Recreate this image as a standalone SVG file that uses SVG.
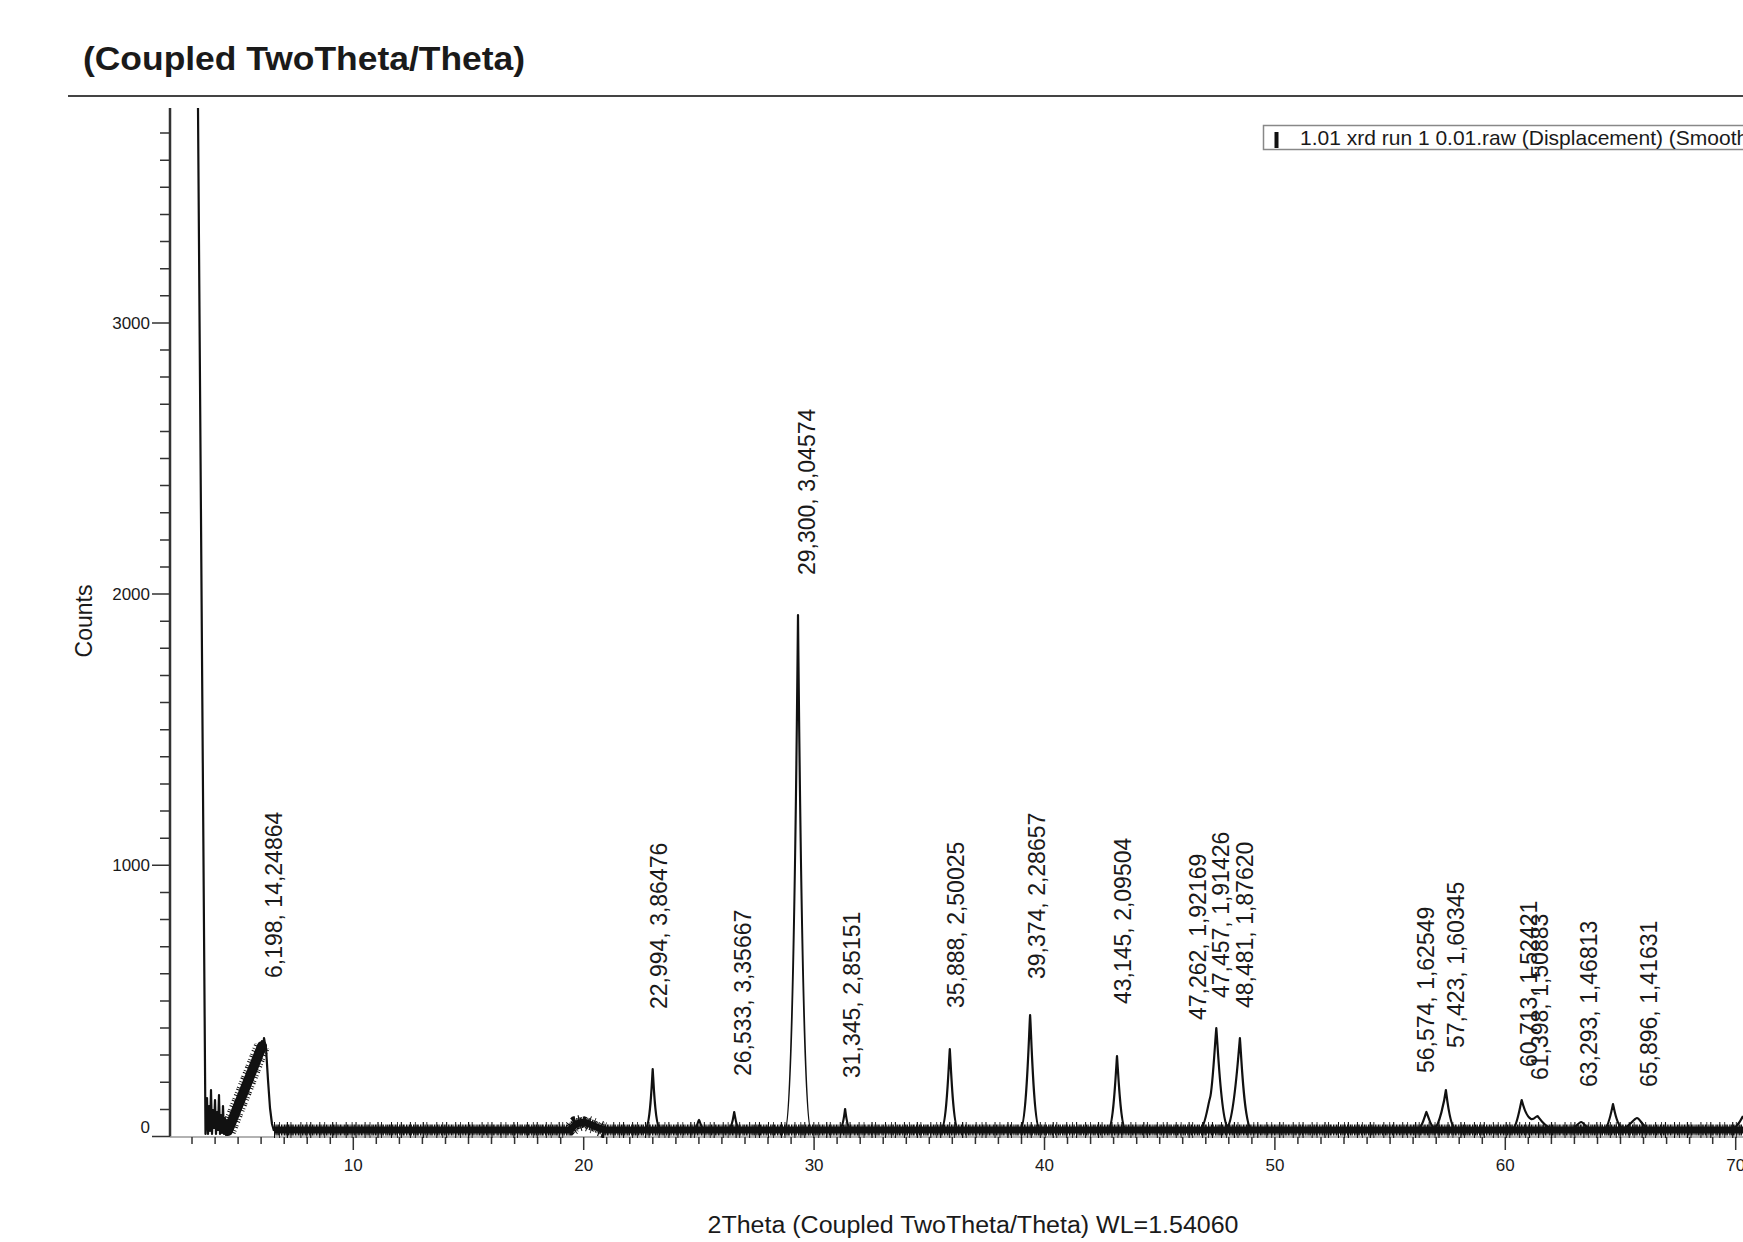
<svg xmlns="http://www.w3.org/2000/svg" width="1743" height="1242" viewBox="0 0 1743 1242">
<style>
  text { font-family: "Liberation Sans", Arial, sans-serif; fill: #1a1a1a; }
  .tick { font-size: 17px; }
  .peak { font-size: 23px; }
  .trace { fill: none; stroke: #111; stroke-width: 2.2; stroke-linejoin: round; }
  .noise { fill: none; stroke: #111; }
</style>
<rect width="1743" height="1242" fill="#ffffff"/>

<g id="title">
  <text x="83" y="70" font-size="34" font-weight="bold" textLength="442" lengthAdjust="spacingAndGlyphs">(Coupled TwoTheta/Theta)</text>
  <line x1="68" y1="96" x2="1743" y2="96" stroke="#444" stroke-width="2"/>
</g>

<g id="legend">
  <rect x="1263.5" y="125.5" width="500" height="24" fill="none" stroke="#888" stroke-width="1.5"/>
  <rect x="1274.5" y="132" width="4" height="16" fill="#111"/>
  <text x="1300" y="145" font-size="21" fill="#333">1.01 xrd run 1 0.01.raw (Displacement) (Smooth</text>
</g>

<g id="y-axis">
  <line x1="170" y1="108" x2="170" y2="1137" stroke="#333" stroke-width="2.5"/>
  <path fill="none" stroke="#333" stroke-width="1.5" d="M160,1109.4h10M160,1082.3h10M160,1055.1h10M160,1028h10M160,1000.9h10M160,973.8h10M160,946.7h10M160,919.5h10M160,892.4h10M160,838.2h10M160,811.1h10M160,783.9h10M160,756.8h10M160,729.7h10M160,702.6h10M160,675.5h10M160,648.3h10M160,621.2h10M160,567h10M160,539.9h10M160,512.7h10M160,485.6h10M160,458.5h10M160,431.4h10M160,404.3h10M160,377.1h10M160,350h10M160,295.8h10M160,268.7h10M160,241.5h10M160,214.4h10M160,187.3h10M160,160.2h10M160,133.1h10"/>
  <path fill="none" stroke="#333" stroke-width="1.5" d="M152,1136.5h18M152,865.3h18M152,594.1h18M152,322.9h18"/>
  <g class="tick" text-anchor="end">
    <text x="150" y="329">3000</text>
    <text x="150" y="600">2000</text>
    <text x="150" y="871">1000</text>
    <text x="150" y="1133">0</text>
  </g>
  <text transform="translate(92,621) rotate(-90)" font-size="23" text-anchor="middle">Counts</text>
</g>

<g id="x-axis">
  <line x1="170" y1="1137" x2="1743" y2="1137" stroke="#999" stroke-width="1.5"/>
  <path fill="none" stroke="#333" stroke-width="1.5" d="M192,1137v7M215.1,1137v7M238.1,1137v7M261.1,1137v7M284.2,1137v7M307.2,1137v7M330.3,1137v7M376.3,1137v7M399.4,1137v7M422.4,1137v7M445.5,1137v7M468.5,1137v7M491.5,1137v7M514.6,1137v7M537.6,1137v7M560.7,1137v7M606.7,1137v7M629.8,1137v7M652.8,1137v7M675.9,1137v7M698.9,1137v7M721.9,1137v7M745,1137v7M768,1137v7M791.1,1137v7M837.1,1137v7M860.2,1137v7M883.2,1137v7M906.3,1137v7M929.3,1137v7M952.3,1137v7M975.4,1137v7M998.4,1137v7M1021.5,1137v7M1067.5,1137v7M1090.6,1137v7M1113.6,1137v7M1136.7,1137v7M1159.7,1137v7M1182.7,1137v7M1205.8,1137v7M1228.8,1137v7M1251.9,1137v7M1297.9,1137v7M1321,1137v7M1344,1137v7M1367.1,1137v7M1390.1,1137v7M1413.1,1137v7M1436.2,1137v7M1459.2,1137v7M1482.3,1137v7M1528.3,1137v7M1551.4,1137v7M1574.4,1137v7M1597.5,1137v7M1620.5,1137v7M1643.5,1137v7M1666.6,1137v7M1689.6,1137v7M1712.7,1137v7"/>
  <path fill="none" stroke="#333" stroke-width="1.5" d="M353.3,1137v13M583.7,1137v13M814.1,1137v13M1044.5,1137v13M1274.9,1137v13M1505.3,1137v13M1735.7,1137v13"/>
  <g class="tick" text-anchor="middle">
    <text x="353.3" y="1171">10</text>
    <text x="583.7" y="1171">20</text>
    <text x="814.1" y="1171">30</text>
    <text x="1044.5" y="1171">40</text>
    <text x="1274.9" y="1171">50</text>
    <text x="1505.3" y="1171">60</text>
    <text x="1735.7" y="1171">70</text>
  </g>
  <text x="973" y="1233" font-size="23" text-anchor="middle" textLength="531" lengthAdjust="spacingAndGlyphs">2Theta (Coupled TwoTheta/Theta) WL=1.54060</text>
</g>

<g id="trace">
  <path class="noise" stroke-width="7" d="M274,1130 H570 L576,1124 L584,1122 L594,1126 L604,1130 H1743"/>
  <path class="noise" stroke-width="11" stroke-dasharray="1.4 0.4 0.9 0.6 1.6 0.3 0.8 0.9 1.2 0.5 0.7 0.6 1.5 0.4 1 1.1" d="M274,1130 H570 L576,1124 L584,1122 L594,1126 L604,1130 H1743"/>
  <path class="noise" stroke-width="16" stroke-dasharray="1 4 0.8 7 1.2 2.5 0.9 9 1 5 0.8 3 1.1 8" d="M274,1130 H570 L576,1124 L584,1122 L594,1126 L604,1130 H1743"/>
  <path class="noise" stroke-width="10" stroke-linecap="round" d="M228,1131 L262,1046"/>
  <path class="noise" stroke-width="16" stroke-dasharray="1 1.5 0.8 2.5 1.2 1 0.9 3" d="M228,1131 L262,1046"/>
  <path class="trace" stroke-width="1.8" d="M198,108 L205.5,1134 L207,1098 L208,1134 L209,1106 L210,1131 L211,1090 L212,1134 L213,1110 L214,1128 L215,1100 L216,1134 L217,1112 L218,1130 L219,1095 L220,1134 L221,1115 L222,1133 L223,1106 L224,1134 L225,1118 L226,1135 L227,1120 L228,1122 L229,1134 L230,1116 L231,1130 L232,1112 L233,1126 L234,1106 L235,1124 L236,1101 L237,1118 L238,1097 L239,1113 L240,1092 L241,1108 L242,1087 L243,1103 L244,1082 L245,1098 L246,1077 L247,1093 L248,1072 L249,1088 L250,1067 L251,1083 L252,1062 L253,1078 L254,1058 L255,1072 L256,1053 L257,1067 L258,1048 L259,1062 L260,1044 L261,1056 L262,1041 L263,1050 L264,1038 L265,1044 L266,1048 L268,1080 L270,1108 L272,1124 L274,1131"/>
  <path class="trace" d="M274,1130 L570,1130 L576,1122 L584,1120 L594,1125 L604,1129 L644.7,1130 C650.3,1129 651.9,1080 652.7,1069 C653.5,1080 655.1,1129 660.7,1130 L694,1130 C697,1128 698,1121 699,1120 C700,1121 701,1128 704,1130 L728,1130 C732,1129 733.5,1116 734.2,1112 C735,1116 736.5,1129 740,1130 L785,1130 C793,1128 797,720 798,615 C799,720 803,1128 811,1130 L839,1130 C843,1129 844.4,1114 845.1,1109 C845.8,1114 847.2,1129 851,1130 L941,1130 C946.5,1129 948.8,1062 949.8,1049 C950.8,1062 953,1129 958.5,1130 L1020,1130 C1026.5,1129 1029,1030 1030.1,1015 C1031.2,1030 1033.7,1129 1040,1130 L1108,1130 C1113.5,1129 1116,1068 1117,1056 C1118,1068 1120.5,1129 1126,1130 L1200,1130 C1205,1128 1208,1104 1210,1098 C1212.5,1090 1215,1042 1216.3,1028 C1217.6,1042 1221,1120 1227.5,1127 C1234,1120 1238.6,1052 1239.9,1038 C1241.2,1052 1244,1128 1252,1130 L1418,1130 C1422,1128 1425,1115 1426.4,1112 C1428,1115 1431,1128 1434.5,1128 C1439,1127 1444.6,1100 1445.9,1090 C1447.2,1100 1450,1128 1456,1130 L1512,1130 C1517,1128 1520,1106 1521.7,1100 C1523.5,1107 1527,1117 1531,1119 C1534,1120 1536,1116 1537.5,1116 C1540,1119 1544,1126 1552,1129 L1572,1130 C1576,1127 1579,1122 1581.2,1122 C1583.5,1122 1586,1128 1590,1130 L1604,1130 C1608.5,1128 1611.7,1110 1613,1104 C1614.3,1110 1617,1126 1622,1128 C1628,1129 1633,1119 1637,1118 C1640,1118 1643,1128 1650,1130 L1730,1130 C1736,1129 1740,1122 1743,1116"/>
</g>

<g id="peak-labels" class="peak">
  <text transform="translate(281.5,978) rotate(-90)">6,198, 14,24864</text>
  <text transform="translate(666.5,1009) rotate(-90)">22,994, 3,86476</text>
  <text transform="translate(750.5,1076) rotate(-90)">26,533, 3,35667</text>
  <text transform="translate(814.5,575) rotate(-90)">29,300, 3,04574</text>
  <text transform="translate(859.5,1078) rotate(-90)">31,345, 2,85151</text>
  <text transform="translate(963.5,1008) rotate(-90)">35,888, 2,50025</text>
  <text transform="translate(1044.5,979) rotate(-90)">39,374, 2,28657</text>
  <text transform="translate(1130.5,1004) rotate(-90)">43,145, 2,09504</text>
  <text transform="translate(1205.5,1020) rotate(-90)">47,262, 1,92169</text>
  <text transform="translate(1228.5,998) rotate(-90)">47,457, 1,91426</text>
  <text transform="translate(1252.5,1008) rotate(-90)">48,481, 1,87620</text>
  <text transform="translate(1433.5,1073) rotate(-90)">56,574, 1,62549</text>
  <text transform="translate(1463.5,1048) rotate(-90)">57,423, 1,60345</text>
  <text transform="translate(1536.5,1067) rotate(-90)">60,713, 1,52421</text>
  <text transform="translate(1547.5,1080) rotate(-90)">61,398, 1,50883</text>
  <text transform="translate(1596.5,1087) rotate(-90)">63,293, 1,46813</text>
  <text transform="translate(1656.5,1087) rotate(-90)">65,896, 1,41631</text>
</g>
</svg>
